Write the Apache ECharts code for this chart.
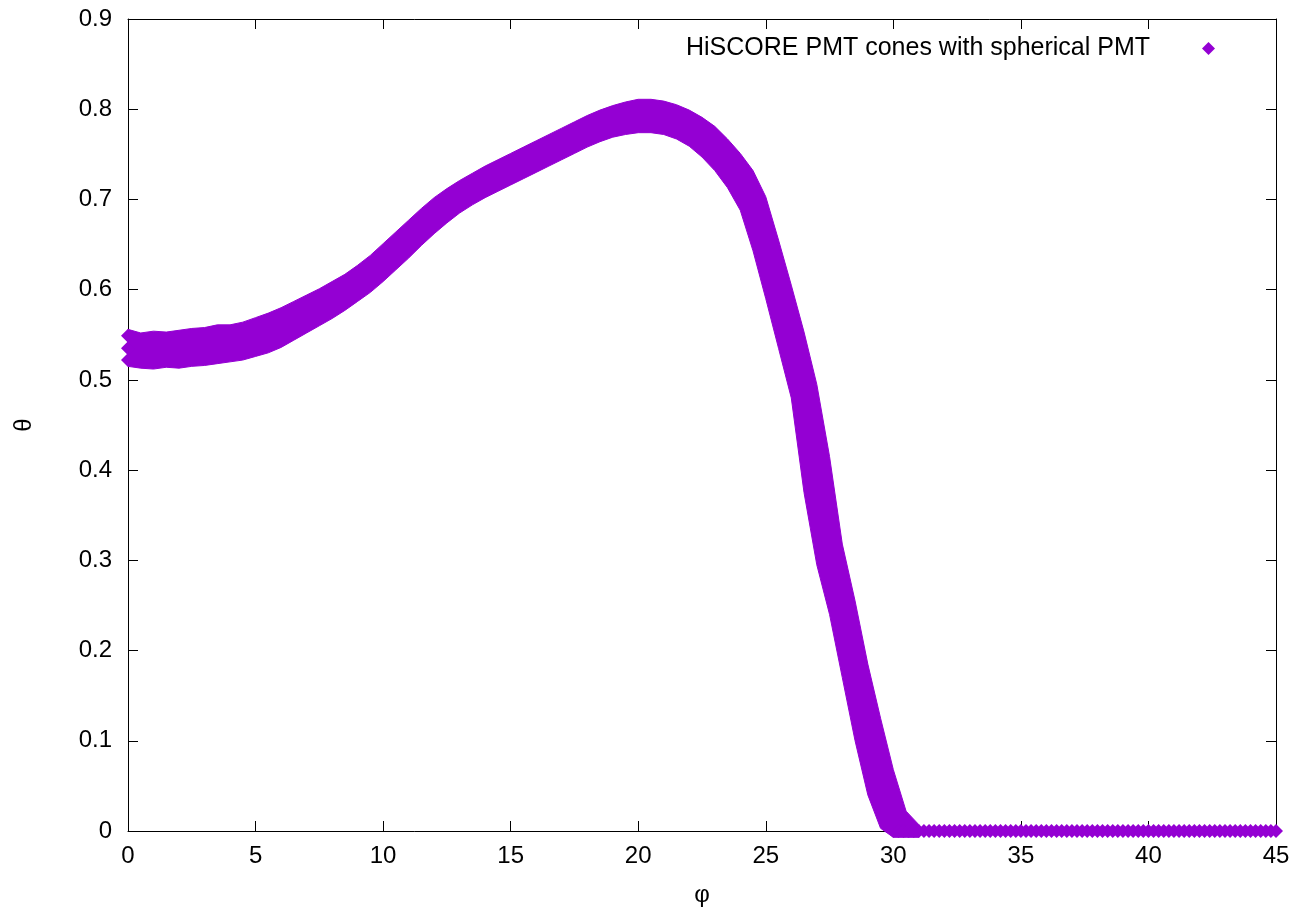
<!DOCTYPE html>
<html>
<head>
<meta charset="utf-8">
<script src="https://cdn.jsdelivr.net/npm/echarts@6/dist/echarts.min.js"></script>
<style>
html,body{margin:0;padding:0;background:#fff;}
#chart{width:1297px;height:912px;}
</style>
</head>
<body>
<div id="chart"></div>
<script>
const seriesName = 'HiSCORE PMT cones with spherical PMT';
const xTitle = 'φ';
const yTitle = 'θ';

// Band envelope (phi grid, upper and lower extent of the point cloud)
const bandPhi = [0,0.5,1,1.5,2,2.5,3,3.5,4,4.5,5,5.5,6,6.5,7,7.5,8,8.5,9,9.5,10,10.5,11,11.5,12,12.5,13,13.5,14,14.5,15,15.5,16,16.5,17,17.5,18,18.5,19,19.5,20,20.5,21,21.5,22,22.5,23,23.5,24,24.5,25,25.5,26,26.5,27,27.5,28,28.5,29,29.5,30,30.5,31];
const bandTop = [0.556,0.552,0.554,0.553,0.555,0.557,0.558,0.561,0.561,0.564,0.569,0.574,0.580,0.587,0.594,0.601,0.609,0.617,0.627,0.638,0.651,0.664,0.677,0.690,0.702,0.712,0.721,0.729,0.737,0.744,0.751,0.758,0.765,0.772,0.779,0.786,0.793,0.799,0.804,0.808,0.811,0.811,0.809,0.805,0.799,0.791,0.781,0.767,0.751,0.732,0.703,0.655,0.605,0.553,0.495,0.415,0.318,0.255,0.185,0.125,0.068,0.022,0.007];
const bandBottom = [0.515,0.513,0.512,0.514,0.513,0.515,0.516,0.518,0.520,0.522,0.526,0.530,0.536,0.544,0.552,0.560,0.568,0.577,0.587,0.597,0.609,0.622,0.635,0.649,0.662,0.674,0.685,0.694,0.702,0.709,0.716,0.723,0.730,0.737,0.744,0.751,0.758,0.764,0.769,0.772,0.774,0.774,0.772,0.767,0.759,0.747,0.732,0.713,0.688,0.643,0.590,0.535,0.480,0.375,0.295,0.240,0.170,0.100,0.040,0.003,-0.007,-0.007,-0.007];

// Individual points at the left end (phi = 0)
const headPhi = [0, 0, 0];
const headTheta = [0.522, 0.535, 0.549];

// Flat tail of points at theta = 0
const tailPhi = [30.0,30.2,30.4,30.6,30.8,31.0,31.2,31.4,31.6,31.8,32.0,32.2,32.4,32.6,32.8,33.0,33.2,33.4,33.6,33.8,34.0,34.2,34.4,34.6,34.8,35.0,35.2,35.4,35.6,35.8,36.0,36.2,36.4,36.6,36.8,37.0,37.2,37.4,37.6,37.8,38.0,38.2,38.4,38.6,38.8,39.0,39.2,39.4,39.6,39.8,40.0,40.2,40.4,40.6,40.8,41.0,41.2,41.4,41.6,41.8,42.0,42.2,42.4,42.6,42.8,43.0,43.2,43.4,43.6,43.8,44.0,44.2,44.4,44.6,44.8,45.0];
const tailTheta = [0,0,0,0,0,0,0,0,0,0,0,0,0,0,0,0,0,0,0,0,0,0,0,0,0,0,0,0,0,0,0,0,0,0,0,0,0,0,0,0,0,0,0,0,0,0,0,0,0,0,0,0,0,0,0,0,0,0,0,0,0,0,0,0,0,0,0,0,0,0,0,0,0,0,0,0];

const COLOR = '#9400D3';
const FONT = 'Liberation Sans';

const chart = echarts.init(document.getElementById('chart'), null, {renderer: 'canvas'});

const pointData = headPhi.map((p, i) => [p, headTheta[i]]).concat(tailPhi.map((p, i) => [p, tailTheta[i]]));

const option = {
  animation: false,
  backgroundColor: '#ffffff',
  grid: {left: 128, right: 21, top: 19, bottom: 81, show: false},
  legend: {
    show: true,
    right: 77,
    top: 31,
    align: 'right',
    itemWidth: 13,
    itemHeight: 13,
    data: [{name: seriesName, icon: 'diamond', itemStyle: {color: COLOR, opacity: 1}}],
    formatter: function (name) { return '{t|' + name + '}'; },
    textStyle: {
      rich: {t: {fontFamily: FONT, fontSize: 25, color: '#000', padding: [0, 47, 0, 0]}}
    }
  },
  xAxis: [{
    type: 'value', min: 0, max: 45, interval: 5, position: 'bottom',
    name: xTitle, nameLocation: 'middle', nameGap: 52,
    nameTextStyle: {fontFamily: FONT, fontSize: 24, color: '#000'},
    axisLine: {show: true, onZero: false, lineStyle: {color: '#000', width: 1}},
    axisTick: {show: true, inside: true, length: 10, lineStyle: {color: '#000'}},
    axisLabel: {fontFamily: FONT, fontSize: 24, color: '#000', margin: 13},
    splitLine: {show: false}
  }, {
    type: 'value', min: 0, max: 45, interval: 5, position: 'top',
    axisLine: {show: true, onZero: false, lineStyle: {color: '#000', width: 1}},
    axisTick: {show: true, inside: true, length: 10, lineStyle: {color: '#000'}},
    axisLabel: {show: false},
    splitLine: {show: false}
  }],
  yAxis: [{
    type: 'value', min: 0, max: 0.9, interval: 0.1, position: 'left',
    name: yTitle, nameLocation: 'middle', nameGap: 92,
    nameTextStyle: {fontFamily: FONT, fontSize: 24, color: '#000'},
    axisLine: {show: true, onZero: false, lineStyle: {color: '#000', width: 1}},
    axisTick: {show: true, inside: true, length: 10, lineStyle: {color: '#000'}},
    axisLabel: {fontFamily: FONT, fontSize: 24, color: '#000', margin: 16},
    splitLine: {show: false}
  }, {
    type: 'value', min: 0, max: 0.9, interval: 0.1, position: 'right',
    axisLine: {show: true, onZero: false, lineStyle: {color: '#000', width: 1}},
    axisTick: {show: true, inside: true, length: 10, lineStyle: {color: '#000'}},
    axisLabel: {show: false},
    splitLine: {show: false}
  }],
  series: [{
    name: 'band',
    type: 'custom',
    xAxisIndex: 0, yAxisIndex: 0,
    silent: true,
    clip: false,
    data: [[bandPhi[0], bandTop[0]]],
    renderItem: function (params, api) {
      const pts = [];
      for (let i = 0; i < bandPhi.length; i++) pts.push(api.coord([bandPhi[i], bandTop[i]]));
      for (let i = bandPhi.length - 1; i >= 0; i--) pts.push(api.coord([bandPhi[i], bandBottom[i]]));
      return {type: 'polygon', shape: {points: pts}, style: {fill: COLOR, stroke: COLOR, lineWidth: 1}};
    },
    z: 2
  }, {
    name: seriesName,
    type: 'scatter',
    xAxisIndex: 0, yAxisIndex: 0,
    symbol: 'diamond',
    symbolSize: 14,
    clip: false,
    itemStyle: {color: COLOR, opacity: 1},
    data: pointData,
    z: 3
  }]
};
chart.setOption(option);
</script>
</body>
</html>
